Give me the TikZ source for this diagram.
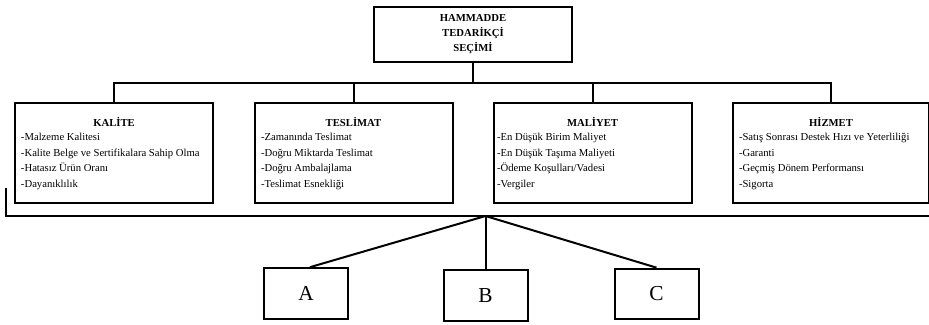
\documentclass[tikz,border=0pt]{standalone}
\usepackage{fontspec}
\setmainfont{Liberation Serif}
\begin{document}
\begin{tikzpicture}[x=0.75pt, y=-0.75pt, line width=1.5pt,
  box/.style={draw, line width=1.5pt, inner sep=0pt},
  catbox/.style={box, minimum width=148.5pt, minimum height=75pt},
  harfbox/.style={box, minimum width=63pt, minimum height=38pt, font=\fontsize{16}{19}\selectfont},
  baslik/.style={font=\fontsize{8}{11.25}\selectfont\bfseries, align=center, inner sep=0pt},
  madde/.style={font=\fontsize{8}{11.6}\selectfont, align=left, inner sep=0pt, anchor=north west}]
\useasboundingbox (0,0) rectangle (929,325);
\node[box, baslik, minimum width=148.5pt, minimum height=41.25pt] (secim) at (473,34.5) {HAMMADDE\\TEDARİKÇİ\\SEÇİMİ};

\node[catbox] (kalite) at (114,153) {};
\node[baslik, anchor=base] (kalitebaslik) at (114,126.5) {KALİTE};
\node[madde] (kalitemadde) at (20,132.5) {-Malzeme Kalitesi\\-Kalite Belge ve Sertifikalara Sahip Olma\\-Hatasız Ürün Oranı\\-Dayanıklılık};

\node[catbox] (teslimat) at (353.5,153) {};
\node[baslik, anchor=base] (teslimatbaslik) at (353.5,126.5) {TESLİMAT};
\node[madde] (teslimatmadde) at (260,132.5) {-Zamanında Teslimat\\-Doğru Miktarda Teslimat\\-Doğru Ambalajlama\\-Teslimat Esnekliği};

\node[catbox] (maliyet) at (592.5,153) {};
\node[baslik, anchor=base] (maliyetbaslik) at (592.5,126.5) {MALİYET};
\node[madde] (maliyetmadde) at (496,132.5) {-En Düşük Birim Maliyet\\-En Düşük Taşıma Maliyeti\\-Ödeme Koşulları/Vadesi\\-Vergiler};

\node[catbox, minimum width=147pt] (hizmet) at (831,153) {};
\node[baslik, anchor=base] (hizmetbaslik) at (831,126.5) {HİZMET};
\node[madde] (hizmetmadde) at (738,132.5) {-Satış Sonrası Destek Hızı ve Yeterliliği\\-Garanti\\-Geçmiş Dönem Performansı\\-Sigorta};

\node[harfbox] (A) at (306,293.5) {A};
\node[harfbox] (B) at (485.5,295.5) {B};
\node[harfbox] (C) at (656.5,294) {C};

\coordinate (bar) at (473,83);
\draw (secim.south) -- (bar);
\draw (kalite.north) |- (bar) -| (hizmet.north);
\foreach \k in {teslimat,maliyet}
  \draw (\k.north) -- (\k.north |- bar);

\coordinate (kose) at (6,188);
\coordinate (uc) at (929,216);
\coordinate (tepe) at (485.5,216);
\draw (kose) |- (uc);
\draw (tepe) -- ([xshift=3pt]A.north);
\foreach \h in {B,C}
  \draw (tepe) -- (\h.north);
\end{tikzpicture}
\end{document}
